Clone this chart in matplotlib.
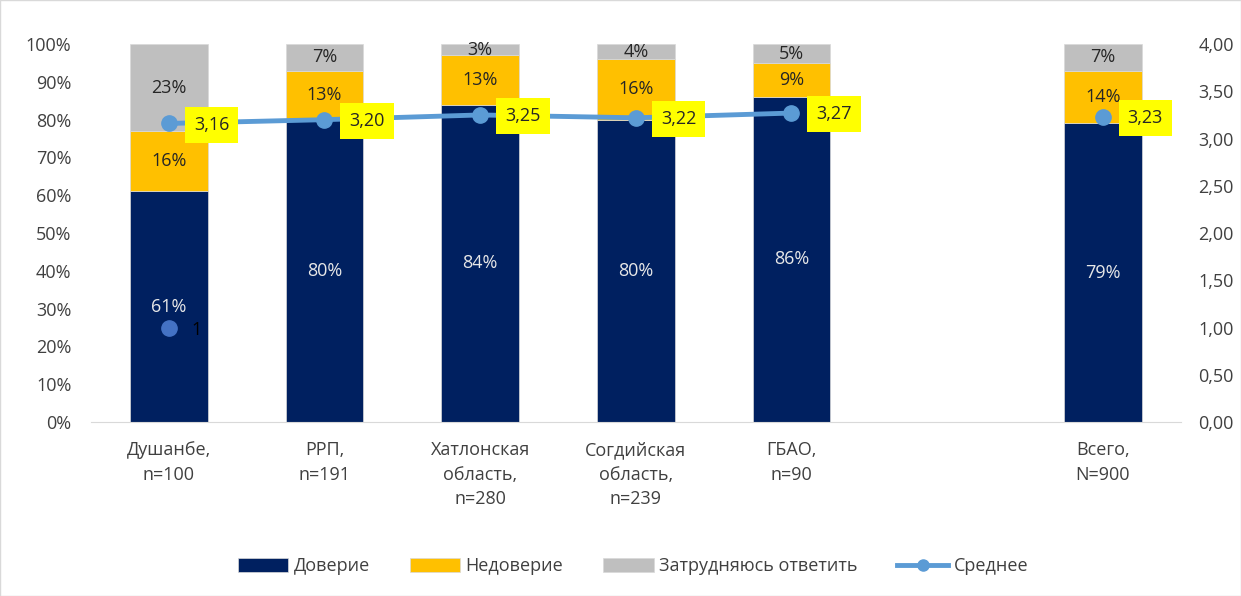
import numpy as np
import matplotlib.pyplot as plt
from matplotlib.ticker import FuncFormatter
from matplotlib.lines import Line2D

plt.rcParams['font.family'] = ['Open Sans', 'DejaVu Sans']

# Данные
kategorii = ['Душанбе,\nn=100', 'РРП,\nn=191', 'Хатлонская\nобласть,\nn=280',
             'Согдийская\nобласть,\nn=239', 'ГБАО,\nn=90', '', 'Всего,\nN=900']
doverie = [61, 80, 84, 80, 86, np.nan, 79]
nedoverie = [16, 13, 13, 16, 9, np.nan, 14]
zatrudnyayus = [23, 7, 3, 4, 5, np.nan, 7]
srednee = [3.16, 3.20, 3.25, 3.22, 3.27, np.nan, 3.23]
otdelnaya_tochka = [1, np.nan, np.nan, np.nan, np.nan, np.nan, np.nan]

c_dov = '#002060'
c_nedov = '#FFC000'
c_zatr = '#BFBFBF'
c_line = '#5B9BD5'
c_text = '#404040'
fs = 13

fig = plt.figure(figsize=(12.41, 5.96), dpi=100)
ax = fig.add_axes([0.0733, 0.292, 0.878, 0.634])
ax2 = ax.twinx()

x = np.arange(len(kategorii))
d = np.nan_to_num(np.array(doverie, dtype=float))
n = np.nan_to_num(np.array(nedoverie, dtype=float))
z = np.nan_to_num(np.array(zatrudnyayus, dtype=float))

ax.bar(x, d, width=0.5, color=c_dov, edgecolor='#D9D9D9', linewidth=0.5, label='Доверие')
ax.bar(x, n, width=0.5, bottom=d, color=c_nedov, edgecolor='#D9D9D9', linewidth=0.5, label='Недоверие')
ax.bar(x, z, width=0.5, bottom=d + n, color=c_zatr, edgecolor='#D9D9D9', linewidth=0.5,
       label='Затрудняюсь ответить')

for i in range(len(x)):
    if d[i] == 0:
        continue
    ax.text(x[i], d[i] / 2, f'{int(d[i])}%', ha='center', va='center', color='#E8E8E8', fontsize=fs)
    ax.text(x[i], d[i] + n[i] / 2, f'{int(n[i])}%', ha='center', va='center', color='#262626', fontsize=fs)
    ax.text(x[i], d[i] + n[i] + z[i] / 2, f'{int(z[i])}%', ha='center', va='center', color='#262626', fontsize=fs)

ax2.plot(x, srednee, color=c_line, linewidth=3.5, marker='o', markersize=11, zorder=5)
ax2.plot(x, otdelnaya_tochka, linestyle='none', marker='o', markersize=11, color='#4472C4', zorder=5)

for i, v in enumerate(srednee):
    if np.isnan(v):
        continue
    ax2.annotate(f'{v:.2f}'.replace('.', ','), (x[i], v), xytext=(18, -1), textcoords='offset points',
                 ha='left', va='center', fontsize=fs, color='#262626',
                 bbox=dict(boxstyle='square,pad=0.5', facecolor='#FFFF00', edgecolor='none'), zorder=6)
ax2.annotate('1', (x[0], otdelnaya_tochka[0]), xytext=(16, -2), textcoords='offset points',
             ha='left', va='center', fontsize=fs, color='black')

ax.set_xlim(-0.5, len(x) - 0.5)
ax.set_ylim(0, 100)
ax2.set_ylim(0, 4)
ax.set_yticks(np.arange(0, 101, 10))
ax.yaxis.set_major_formatter(FuncFormatter(lambda v, p: f'{int(v)}%'))
ax2.set_yticks(np.arange(0, 4.01, 0.5))
ax2.yaxis.set_major_formatter(FuncFormatter(lambda v, p: f'{v:.2f}'.replace('.', ',')))
ax.set_xticks(x)
ax.set_xticklabels(kategorii, fontsize=fs, color=c_text, linespacing=1.45)

for a in (ax, ax2):
    for s in ('top', 'left', 'right'):
        a.spines[s].set_visible(False)
    a.tick_params(axis='y', length=0, labelsize=fs, labelcolor=c_text)
ax.tick_params(axis='y', pad=14)
ax2.tick_params(axis='y', pad=13)
ax2.spines['bottom'].set_visible(False)
ax.spines['bottom'].set_color('#D9D9D9')
ax.tick_params(axis='x', length=0, pad=14)

h1, l1 = ax.get_legend_handles_labels()
h_line = Line2D([], [], color=c_line, linewidth=3.5, marker='o', markersize=8)
fig.legend(h1 + [h_line], l1 + ['Среднее'], loc='center', bbox_to_anchor=(0.51, 0.05), ncol=4, frameon=False,
           fontsize=fs, handlelength=2.8, handleheight=0.8, columnspacing=2.2, handletextpad=0.3,
           labelcolor=c_text)

fig.patches.append(plt.Rectangle((0, 0), 1, 1, transform=fig.transFigure, fill=False,
                                 edgecolor='#D9D9D9', linewidth=1))

fig.savefig('out.png', dpi=100)
